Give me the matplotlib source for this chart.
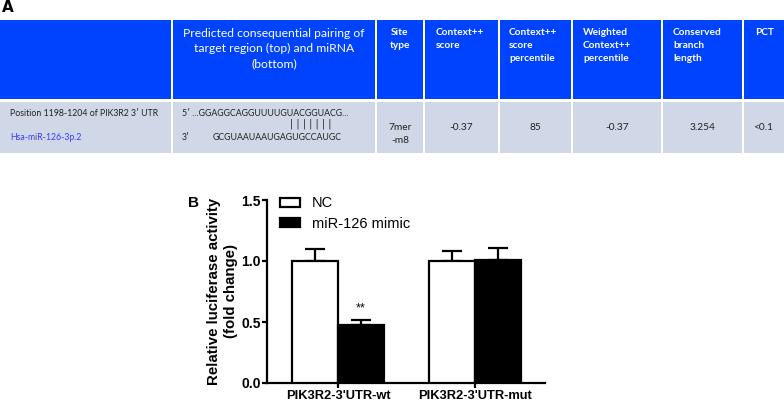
import matplotlib
matplotlib.use("Agg")
import matplotlib.pyplot as plt
from matplotlib.patches import Rectangle
import numpy as np

# ---- Data ----
groups = ["PIK3R2-3'UTR-wt", "PIK3R2-3'UTR-mut"]
series = ["NC", "miR-126 mimic"]
nc_vals = [1.00, 1.00]
nc_err = [0.095, 0.08]
mimic_vals = [0.475, 1.01]
mimic_err = [0.04, 0.10]
yticks = [0.0, 0.5, 1.0, 1.5]

header_texts = ["", "Predicted consequential pairing of\ntarget region (top) and miRNA\n(bottom)",
                "Site\ntype", "Context++\nscore", "Context++\nscore\npercentile",
                "Weighted\nContext++\npercentile", "Conserved\nbranch\nlength", "PCT"]
row_values = ["7mer\n-m8", "-0.37", "85", "-0.37", "3.254", "<0.1"]
site_label = "Position 1198-1204 of PIK3R2 3\u2032 UTR"
mirna_label = "Hsa-miR-126-3p.2"
target_seq = "5\u2032 ...GGAGGCAGGUUUUGUACGGUACG..."
pair_marks = "| | | | | | |"
mirna_seq = "GCGUAAUAAUGAGUGCCAUGC"

W, H = 784, 403
fig = plt.figure(figsize=(W/100, H/100), dpi=100)

# ---- Table (panel A), pixel coordinates ----
tab = fig.add_axes([0, 0, 1, 1])
tab.set_xlim(0, W)
tab.set_ylim(H, 0)
tab.axis("off")

col_edges = [0, 172, 376, 424, 499, 572, 662, 743, 784]
hdr_top, hdr_bot = 20, 99
row_top, row_bot = 102, 153
blue = "#0043FF"
grey = "#D0D7E6"
for i in range(len(col_edges) - 1):
    x0, x1 = col_edges[i], col_edges[i + 1]
    gap_l = 1 if i > 0 else 0
    gap_r = 1 if i < len(col_edges) - 2 else 0
    tab.add_patch(Rectangle((x0 + gap_l, hdr_top), x1 - x0 - gap_l - gap_r, hdr_bot - hdr_top,
                            facecolor=blue, edgecolor="none"))
    tab.add_patch(Rectangle((x0 + gap_l, row_top), x1 - x0 - gap_l - gap_r, row_bot - row_top,
                            facecolor=grey, edgecolor="none"))

tfont = "Lato"
tab.text(2, 8, "A", fontsize=11, fontweight="bold", family="DejaVu Sans", va="center", ha="left")

# header texts
tab.text((col_edges[1] + col_edges[2]) / 2, 28, header_texts[1], color="white", fontsize=8.7,
         family=tfont, ha="center", va="top", linespacing=1.45)
tab.text((col_edges[2] + col_edges[3]) / 2, 28, header_texts[2], color="white", fontsize=7.3,
         family=tfont, fontweight="bold", ha="center", va="top", linespacing=1.6)
lefts = [436, 509, 583, 673, 755]
for j, x in enumerate(lefts):
    tab.text(x, 28, header_texts[3 + j], color="white", fontsize=7.3, family=tfont,
             fontweight="bold", ha="left", va="top", linespacing=1.6)

# data row
tab.text(10, 113, site_label, fontsize=6.3, family=tfont, ha="left", va="center", color="#222222")
tab.text(10, 137, mirna_label, fontsize=6.3, family=tfont, ha="left", va="center", color="#3B3BFF")
tab.text(182, 113, target_seq, fontsize=6.3, family=tfont, ha="left", va="center", color="#222222")
tab.text(311, 124, pair_marks, fontsize=7, family="DejaVu Sans", ha="center", va="center", color="#222222")
tab.text(182, 137, "3\u2032", fontsize=6.3, family=tfont, ha="left", va="center", color="#222222")
tab.text(213, 137, mirna_seq, fontsize=6.3, family=tfont, ha="left", va="center", color="#222222")
for j, v in enumerate(row_values):
    cx = (col_edges[2 + j] + col_edges[3 + j]) / 2
    tab.text(cx, 128 if j > 0 else 134, v, fontsize=7.3, family=tfont, ha="center", va="center",
             color="#222222", linespacing=1.5)

# ---- Bar chart (panel B) ----
ax = fig.add_axes([267/W, 1 - 383/H, (545 - 267)/W, (383 - 200)/H])
x = np.arange(len(groups))
bw = 0.336
lw = 1.6
ax.bar(x - bw/2, nc_vals, bw, color="white", edgecolor="black", linewidth=lw, label=series[0], zorder=3)
ax.bar(x + bw/2, mimic_vals, bw, color="black", edgecolor="black", linewidth=lw, label=series[1], zorder=3)
ax.errorbar(x - bw/2, nc_vals, yerr=[np.zeros(2), nc_err], fmt="none", ecolor="black",
            elinewidth=lw, capsize=7, capthick=lw, zorder=2)
ax.errorbar(x + bw/2, mimic_vals, yerr=[np.zeros(2), mimic_err], fmt="none", ecolor="black",
            elinewidth=lw, capsize=7, capthick=lw, zorder=2)
ax.text(x[0] + bw/2, mimic_vals[0] + mimic_err[0] + 0.1, "**", ha="center", va="center",
        fontsize=9, family="Liberation Sans")

ax.set_xlim(-0.518, 1.511)
ax.set_ylim(0, 1.5)
ax.set_yticks(yticks)
ax.set_yticklabels([f"{v:.1f}" for v in yticks], fontsize=10, fontweight="bold", family="Liberation Sans")
ax.set_xticks(x)
ax.set_xticklabels(groups, fontsize=9.3, fontweight="bold", family="Liberation Sans")
ax.tick_params(axis="both", width=lw, length=3.5, direction="out")
ax.tick_params(axis="y", pad=1)
ax.tick_params(axis="x", pad=1.5)
for s in ["top", "right"]:
    ax.spines[s].set_visible(False)
for s in ["left", "bottom"]:
    ax.spines[s].set_linewidth(lw)
ax.set_ylabel("Relative luciferase activity\n(fold change)", fontsize=10.8, fontweight="bold",
              family="Liberation Sans", labelpad=2, linespacing=1.3)
leg = ax.legend(loc="upper left", bbox_to_anchor=(0.047, 1.02), frameon=False,
                borderaxespad=0, borderpad=0,
                prop={"family": "Liberation Sans", "size": 10.5}, handlelength=1.37,
                handleheight=0.6, labelspacing=0.45, handletextpad=0.8)
fig.text(188/W, 1 - 203/H, "B", fontsize=11, fontweight="bold", family="Liberation Sans",
         ha="left", va="center")

fig.savefig("out.png", dpi=100)
